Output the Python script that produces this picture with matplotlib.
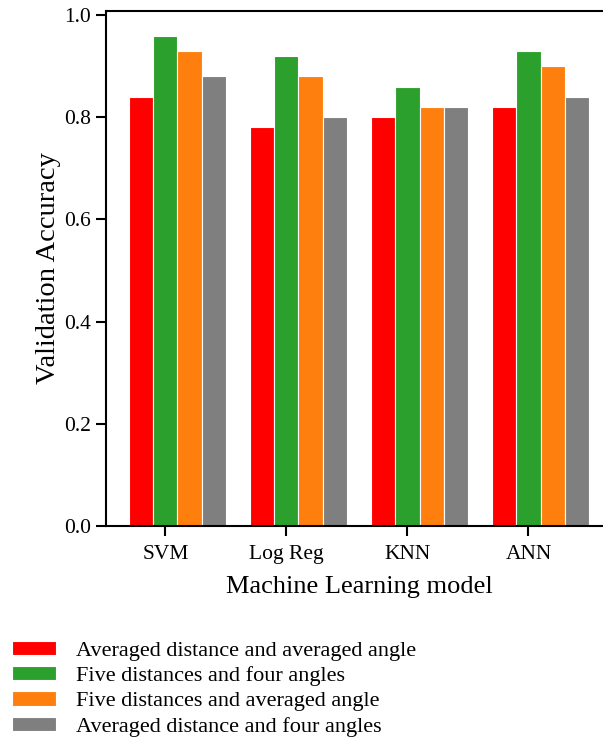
import matplotlib

matplotlib.use("Agg")
import matplotlib.pyplot as plt
import numpy as np

models = ["SVM", "Log Reg", "KNN", "ANN"]
series = [
    "Averaged distance and averaged angle",
    "Five distances and four angles",
    "Five distances and averaged angle",
    "Averaged distance and four angles",
]
avg_dist_avg_angle = [0.84, 0.78, 0.80, 0.82]
five_dist_four_angles = [0.96, 0.92, 0.86, 0.93]
five_dist_avg_angle = [0.93, 0.88, 0.82, 0.90]
avg_dist_four_angles = [0.88, 0.80, 0.82, 0.84]
colors = ["#ff0000", "#2ca02c", "#ff7f0e", "#7f7f7f"]

plt.rcParams["font.family"] = ["Liberation Serif", "DejaVu Serif"]

W, H = 603, 749
fig = plt.figure(figsize=(W / 100, H / 100), dpi=100)
# axes box in pixels: left 106, right 612 (cropped), top 11, bottom 526
ax = fig.add_axes([106 / W, 1 - 526 / H, (612 - 106) / W, (526 - 11) / H])

x = np.arange(len(models))
w = 0.2
data = [avg_dist_avg_angle, five_dist_four_angles, five_dist_avg_angle, avg_dist_four_angles]
handles = []
for i, (vals, c, lab) in enumerate(zip(data, colors, series)):
    b = ax.bar(x + (i - 1) * w, vals, w, color=c, edgecolor="white", linewidth=0.8, label=lab)
    handles.append(b)

ax.set_xticks(x)
ax.set_xticklabels(models)
ax.set_yticks([0.0, 0.2, 0.4, 0.6, 0.8, 1.0])
ax.set_ylim(0, 1.008)
ax.tick_params(labelsize=15.5, length=7.5, width=1.5, direction="out")
ax.tick_params(axis="x", pad=6)
for s in ax.spines.values():
    s.set_linewidth(1.5)
ax.set_xlabel("Machine Learning model", fontsize=19, labelpad=9)
ax.set_ylabel("Validation Accuracy", fontsize=20.5, labelpad=2)

fig.legend(handles=handles, loc="upper left", bbox_to_anchor=(12 / W, 1 - 641 / H),
           frameon=False, fontsize=16, handlelength=2.0, handleheight=0.6,
           handletextpad=0.9, labelspacing=0.24, borderpad=0, borderaxespad=0)

fig.savefig("out.png", dpi=100)
